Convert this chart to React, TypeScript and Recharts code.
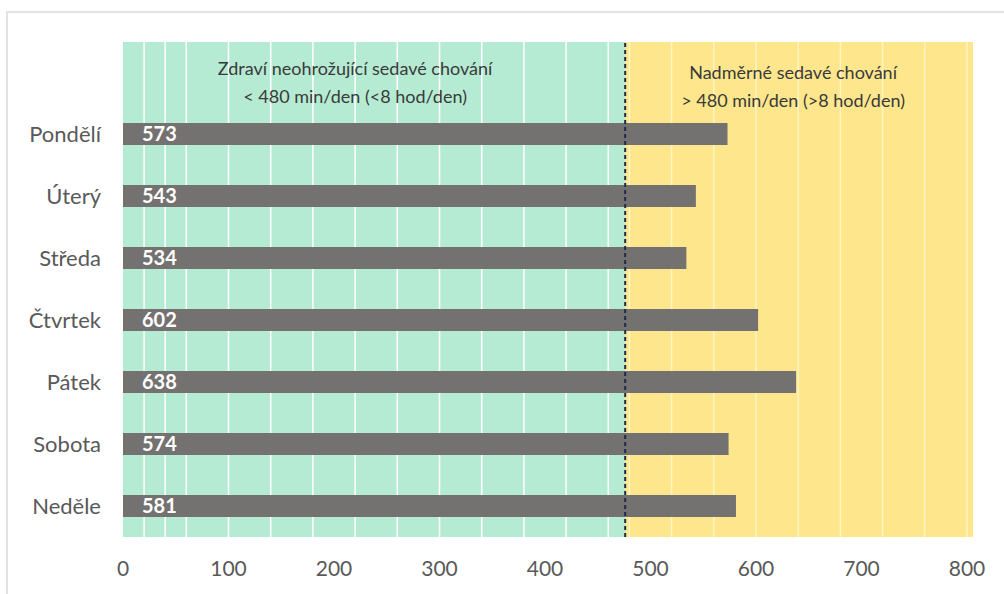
import React from "react";
import {
  BarChart, Bar, XAxis, YAxis, CartesianGrid,
  ReferenceLine, ReferenceArea, LabelList,
} from "recharts";

// průměrný čas sezení podle dne v týdnu (min/den)
const days = ["Pondělí", "Úterý", "Středa", "Čtvrtek", "Pátek", "Sobota", "Neděle"];
const minutes = [573, 543, 534, 602, 638, 574, 581];
const xTicks = [0, 100, 200, 300, 400, 500, 600, 700, 800];
const threshold = 476;
const zoneTitles = ["Zdraví neohrožující sedavé chování", "Nadměrné sedavé chování"];
const zoneSubtitles = ["< 480 min/den (<8 hod/den)", "> 480 min/den (>8 hod/den)"];

const gridValues = Array.from({ length: 41 }, (_, i) => i * 20);

const data = days.map((day, i) => ({ day, value: minutes[i] }));

const FONT = "Lato, 'Open Sans', sans-serif";
const W = 1004;
const H = 594;

const zoneLabel = (title: string, sub: string, dx: number, dy: number) => (props: any) => {
  const vb = props.viewBox || {};
  const cx = vb.x + vb.width / 2 + dx;
  return (
    <text textAnchor="middle" fontFamily={FONT} fontSize={18} fill="#3a3a3a">
      <tspan x={cx} y={76 + dy}>{title}</tspan>
      <tspan x={cx} y={104 + dy}>{sub}</tspan>
    </text>
  );
};

export default function App() {
  return (
    <div style={{ position: "absolute", left: 0, top: 0, width: W, height: H, background: "#fff", overflow: "hidden" }}>
      <div style={{ position: "absolute", left: 6, top: 11, width: W, height: H, border: "2px solid #e2e2e2", boxSizing: "border-box" }} />
      <div style={{ position: "absolute", left: 0, top: 0 }}>
        <BarChart
          width={W}
          height={H}
          data={data}
          layout="vertical"
          margin={{ top: 42, right: 31, left: 13, bottom: 27 }}
        >
          {/* pozadí zón */}
          <CartesianGrid
            horizontal={false}
            stroke="none"
            verticalFill={["#b5ebd3", "#fde68c"]}
            fillOpacity={1}
            verticalValues={[0, threshold]}
          />
          <CartesianGrid
            horizontal={false}
            stroke="#ffffff"
            strokeWidth={1.5}
            verticalValues={gridValues.filter((v) => v > 0 && v < threshold)}
          />
          <CartesianGrid
            horizontal={false}
            stroke="#fff4c4"
            strokeWidth={1.5}
            verticalValues={gridValues.filter((v) => v > threshold)}
          />
          <XAxis
            type="number"
            domain={[0, 800]}
            ticks={xTicks}
            padding={{ left: 0, right: 6 }}
            axisLine={false}
            tickLine={false}
            tickMargin={18}
            tick={{ fill: "#595959", fontSize: 21, fontFamily: FONT }}
          />
          <YAxis
            type="category"
            dataKey="day"
            width={110}
            padding={{ top: 61, bottom: 0 }}
            axisLine={false}
            tickLine={false}
            tickMargin={16}
            tick={{ fill: "#595959", fontSize: 22, fontFamily: FONT }}
          />
          <ReferenceArea x1={0} x2={threshold} fillOpacity={0} stroke="none"
            label={zoneLabel(zoneTitles[0], zoneSubtitles[0], -19, -1)} />
          <ReferenceArea x1={threshold} x2={800} fillOpacity={0} stroke="none"
            label={zoneLabel(zoneTitles[1], zoneSubtitles[1], -3, 3)} />
          <Bar dataKey="value" fill="#747171" barSize={22} isAnimationActive={false}>
            <LabelList
              dataKey="value"
              position="insideLeft"
              offset={19}
              fill="#ffffff"
              fontSize={20}
              fontWeight={700}
              fontFamily={FONT}
            />
          </Bar>
          <ReferenceLine x={threshold} stroke="#1f2b4a" strokeWidth={2} strokeDasharray="4 3" />
        </BarChart>
      </div>
    </div>
  );
}
